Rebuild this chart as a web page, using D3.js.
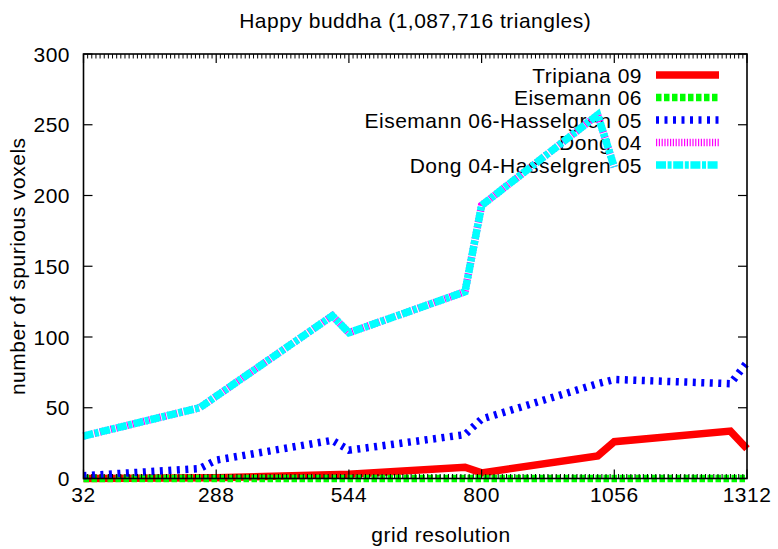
<!DOCTYPE html>
<html>
<head>
<meta charset="utf-8">
<script src="https://cdn.jsdelivr.net/npm/d3@7"></script>
<style>
  body { margin: 0; background: #fff; }
  svg { display: block; }
  text { font-family: "Liberation Sans", Arial, Helvetica, sans-serif; fill: #000; }
</style>
</head>
<body>
<svg id="chart" width="778" height="549"></svg>
<script>
// Spurious voxel counts per grid resolution, Happy buddha model
const tripianaX = [32, 288, 544, 768, 800, 1024, 1056, 1280, 1312];
const tripianaY = [0, 0.5, 3, 8, 4, 16, 26, 33.5, 21];

const eisemannX = [32, 1312];
const eisemannY = [0, 0];

const eisHassX = [32, 256, 288, 512, 544, 768, 800, 1024, 1056, 1280, 1312];
const eisHassY = [2, 7, 13, 27, 20, 31, 42, 67, 70, 67, 82];

const dongX = [32, 256, 512, 544, 768, 800, 1024, 1056];
const dongY = [30, 50, 115, 103, 132, 193, 257, 220];

const dongHassX = [32, 256, 512, 544, 768, 800, 1024, 1056];
const dongHassY = [30, 50, 115, 103, 132, 193, 257, 220];

const seriesNames = ["Tripiana 09", "Eisemann 06", "Eisemann 06-Hasselgren 05", "Dong 04", "Dong 04-Hasselgren 05"];
const xTicks = [32, 288, 544, 800, 1056, 1312];
const yTicks = [0, 50, 100, 150, 200, 250, 300];

const titleText = "Happy buddha (1,087,716 triangles)";
const xLabel = "grid resolution";
const yLabel = "number of spurious voxels";

const series = [
  { name: seriesNames[0], xs: tripianaX, ys: tripianaY, color: "#ff0000", dash: null },
  { name: seriesNames[1], xs: eisemannX, ys: eisemannY, color: "#00ff00", dash: "5.5,2.5" },
  { name: seriesNames[2], xs: eisHassX, ys: eisHassY, color: "#0000ff", dash: "3,5.5" },
  { name: seriesNames[3], xs: dongX, ys: dongY, color: "#ff00ff", dash: "1.2,1.6" },
  { name: seriesNames[4], xs: dongHassX, ys: dongHassY, color: "#00ffff", dash: "10,1.6,4,1.6" }
];

const plotLeft = 83.5, plotRight = 747, plotTop = 54, plotBottom = 478.5;
const svg = d3.select("#chart");

const x = d3.scaleLinear().domain([32, 1312]).range([plotLeft, plotRight]);
const y = d3.scaleLinear().domain([0, 300]).range([plotBottom, plotTop]);

const fontSize = 21;
const ls = "0.5px";

// title
svg.append("text")
  .attr("x", (plotLeft + plotRight) / 2).attr("y", 27.5)
  .attr("text-anchor", "middle")
  .style("font-size", fontSize + "px").style("letter-spacing", ls)
  .text(titleText);

// axis labels
svg.append("text")
  .attr("x", 441).attr("y", 542)
  .attr("text-anchor", "middle")
  .style("font-size", fontSize + "px").style("letter-spacing", ls)
  .text(xLabel);

svg.append("text")
  .attr("transform", `translate(25,${(plotTop + plotBottom) / 2}) rotate(-90)`)
  .attr("text-anchor", "middle")
  .style("font-size", fontSize + "px").style("letter-spacing", ls)
  .text(yLabel);

// tick labels
svg.append("g").selectAll("text").data(xTicks).join("text")
  .attr("x", d => x(d)).attr("y", 501.5)
  .attr("text-anchor", "middle")
  .style("font-size", fontSize + "px").style("letter-spacing", ls)
  .text(d => d);

svg.append("g").selectAll("text").data(yTicks).join("text")
  .attr("x", 70).attr("y", d => y(d) + 7.5)
  .attr("text-anchor", "end")
  .style("font-size", fontSize + "px").style("letter-spacing", ls)
  .text(d => d);

// legend
const legX = 642, legY0 = 75, legStep = 22.5, sampleX0 = 656, sampleX1 = 719;
const legend = svg.append("g");
series.forEach((s, i) => {
  const yy = legY0 + i * legStep;
  legend.append("text")
    .attr("x", legX).attr("y", yy + 7.5)
    .attr("text-anchor", "end")
    .style("font-size", fontSize + "px").style("letter-spacing", ls)
    .text(s.name);
});

// series lines
const line = d3.line().x(d => x(d[0])).y(d => y(d[1]));
series.forEach((s, i) => {
  const pts = s.xs.map((v, k) => [v, s.ys[k]]);
  const yy = legY0 + i * legStep;
  const sample = svg.append("line")
    .attr("x1", sampleX0).attr("x2", sampleX1).attr("y1", yy).attr("y2", yy)
    .attr("stroke", s.color).attr("stroke-width", 7.5);
  if (s.dash) sample.attr("stroke-dasharray", s.dash);
  const p = svg.append("path").datum(pts)
    .attr("d", line)
    .attr("fill", "none")
    .attr("stroke", s.color)
    .attr("stroke-width", 7.5)
    .attr("stroke-linejoin", "miter");
  if (s.dash) p.attr("stroke-dasharray", s.dash);
});

// frame and ticks
const frame = svg.append("g").attr("stroke", "#000").attr("fill", "none");
frame.append("rect")
  .attr("x", plotLeft).attr("y", plotTop)
  .attr("width", plotRight - plotLeft).attr("height", plotBottom - plotTop)
  .attr("stroke-width", 1.6);

const majorLen = 9, minorLen = 4.5;
const minorTicks = d3.range(32, 1312 + 0.1, 8).filter(v => !xTicks.includes(v));
xTicks.forEach(v => {
  frame.append("line").attr("x1", x(v)).attr("x2", x(v)).attr("y1", plotBottom).attr("y2", plotBottom - majorLen).attr("stroke-width", 1.2);
  frame.append("line").attr("x1", x(v)).attr("x2", x(v)).attr("y1", plotTop).attr("y2", plotTop + majorLen).attr("stroke-width", 1.2);
});
minorTicks.forEach(v => {
  frame.append("line").attr("x1", x(v)).attr("x2", x(v)).attr("y1", plotBottom).attr("y2", plotBottom - minorLen).attr("stroke-width", 1);
  frame.append("line").attr("x1", x(v)).attr("x2", x(v)).attr("y1", plotTop).attr("y2", plotTop + minorLen).attr("stroke-width", 1);
});
yTicks.forEach(v => {
  frame.append("line").attr("x1", plotLeft).attr("x2", plotLeft + majorLen).attr("y1", y(v)).attr("y2", y(v)).attr("stroke-width", 1.2);
  frame.append("line").attr("x1", plotRight).attr("x2", plotRight - majorLen).attr("y1", y(v)).attr("y2", y(v)).attr("stroke-width", 1.2);
});
</script>
</body>
</html>
